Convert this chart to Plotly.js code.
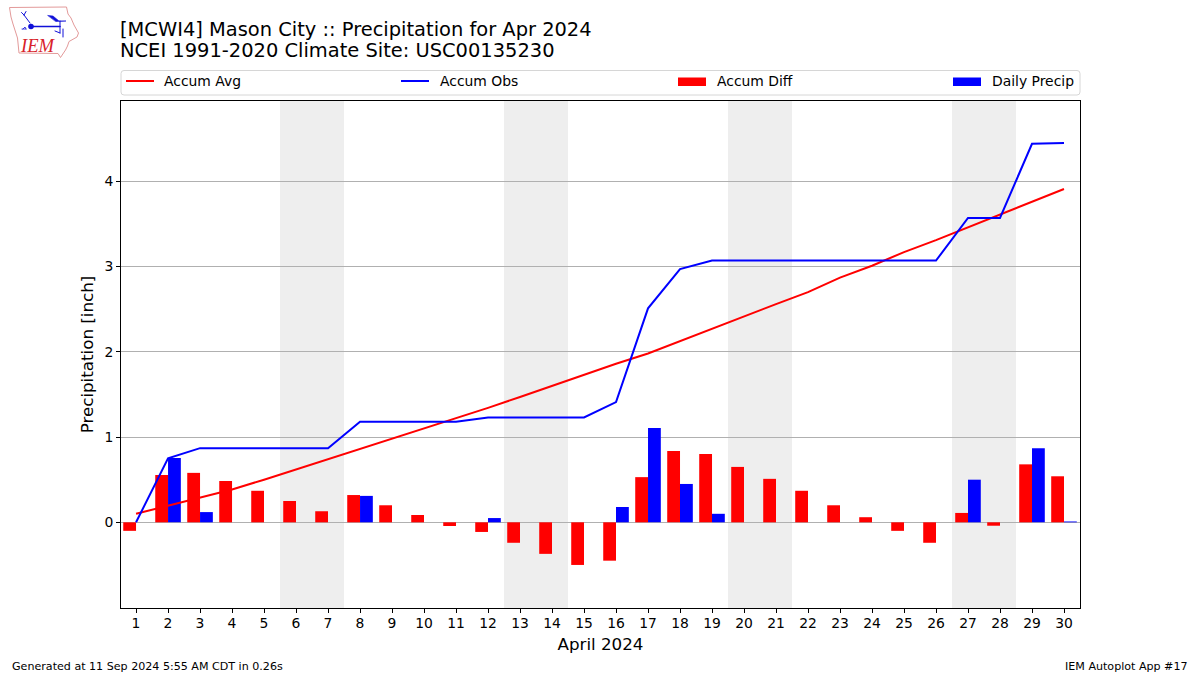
<!DOCTYPE html>
<html><head><meta charset="utf-8">
<script src="https://cdn.plot.ly/plotly-3.0.1.min.js"></script>
<style>html,body{margin:0;padding:0;background:#fff}</style></head>
<body><div id="chart" style="width:1200px;height:675px"></div>
<script>
const days = [1,2,3,4,5,6,7,8,9,10,11,12,13,14,15,16,17,18,19,20,21,22,23,24,25,26,27,28,29,30];
const accumAvg = [0.10,0.195,0.29,0.385,0.50,0.62,0.74,0.86,0.98,1.094,1.223,1.343,1.47,1.60,1.73,1.86,1.98,2.125,2.27,2.42,2.56,2.70,2.87,3.01,3.17,3.31,3.46,3.61,3.76,3.91];
const accumObs = [0,0.75,0.87,0.87,0.87,0.87,0.87,1.18,1.18,1.18,1.18,1.23,1.23,1.23,1.23,1.41,2.51,2.97,3.07,3.07,3.07,3.07,3.07,3.07,3.07,3.07,3.57,3.57,4.44,4.45];
const accumDiff = [-0.10,0.555,0.58,0.485,0.37,0.25,0.13,0.32,0.20,0.086,-0.043,-0.113,-0.24,-0.37,-0.50,-0.45,0.53,0.836,0.80,0.65,0.51,0.37,0.20,0.06,-0.10,-0.24,0.11,-0.04,0.68,0.54];
const dailyPrecip = [0,0.755,0.12,0,0,0,0,0.31,0,0,0,0.05,0,0,0,0.18,1.105,0.45,0.10,0,0,0,0,0,0,0,0.50,0,0.87,0.01];
const weekends = [[5.5,7.5],[12.5,14.5],[19.5,21.5],[26.5,28.5]];
const yTicks = [0,1,2,3,4];
const legendLabels = ["Accum Avg","Accum Obs","Accum Diff","Daily Precip"];

const L=121,T=101,W=959,H=507,FONT="DejaVu Sans";
const px=x=>(x-L)/W, py=y=>1-(y-T)/H;
const TXT="#000";

const logo = `<svg xmlns="http://www.w3.org/2000/svg" viewBox="0 0 90 65" width="90" height="65">
<path d="M9.5 7.5 L66.5 7 L68 14 L71 18 L74 25 L78.5 33 L77 37 L69 41.5 L67.5 46 L65.5 50 L63.5 53 L60.5 57.5 L58 53.5 L19 53 L17.5 38 L13 24 L11 17 Z" fill="none" stroke="#e39a9a" stroke-width="1"/>
<g stroke="#1010d8" fill="#1010d8" stroke-linecap="round">
<path d="M31 26.5 L60 26.5" stroke-width="1.6" fill="none"/>
<circle cx="31" cy="26.5" r="2.8" stroke="none"/>
<path d="M30 23 L24 15 M24 15 L21.5 12.5 M24 15 L26 11.5" stroke-width="1" fill="none"/>
<path d="M48 15.5 L53 16 L59 21 L66 21 L56 21.5 Z" stroke-width=".6"/>
<path d="M60 21 L60 33 M55 31 L60 33 M63 29 L63 37" stroke-width="1" fill="none"/>
<path d="M23 29 l2 -2 l1 2 M22 29 l4 0" stroke-width=".8" fill="none"/>
</g></svg>`;

const shapes = weekends.map(w=>({type:"rect",xref:"x",yref:"paper",x0:w[0],x1:w[1],y0:0,y1:1,fillcolor:"#eeeeee",line:{width:0},layer:"below"}));
const r=3,bx0=px(121),bx1=px(1080),by0=py(70.5),by1=py(95);
const rx=r/W, ry=r/H;
shapes.push({type:"path",xref:"paper",yref:"paper",
  path:`M${bx0+rx},${by0} L${bx1-rx},${by0} Q${bx1},${by0} ${bx1},${by0-ry} L${bx1},${by1+ry} Q${bx1},${by1} ${bx1-rx},${by1} L${bx0+rx},${by1} Q${bx0},${by1} ${bx0},${by1+ry} L${bx0},${by0-ry} Q${bx0},${by0} ${bx0+rx},${by0} Z`,
  line:{color:"#d6d6d6",width:1},fillcolor:"#fff"});
shapes.push({type:"line",xref:"paper",yref:"paper",x0:px(126),x1:px(154),y0:py(81),y1:py(81),line:{color:"#ff0000",width:2}});
shapes.push({type:"line",xref:"paper",yref:"paper",x0:px(401),x1:px(429),y0:py(81),y1:py(81),line:{color:"#0000ff",width:2}});
shapes.push({type:"rect",xref:"paper",yref:"paper",x0:px(678),x1:px(706),y0:py(77.5),y1:py(86),fillcolor:"#ff0000",line:{width:0}});
shapes.push({type:"rect",xref:"paper",yref:"paper",x0:px(953),x1:px(981),y0:py(77.5),y1:py(86),fillcolor:"#0000ff",line:{width:0}});

const ann=(text,x,y,size,anchor,extra)=>Object.assign({text,xref:"paper",yref:"paper",x:px(x),y:py(y),xanchor:anchor||"left",yanchor:"middle",showarrow:false,font:{family:FONT,size,color:TXT},borderpad:0},extra||{});
const annotations=[
  ann("NCEI 1991-2020 Climate Site: USC00135230",119,50.5,19.44),
  ann(legendLabels[0],163,80.8,13.9),
  ann(legendLabels[1],439,80.8,13.9),
  ann(legendLabels[2],716,80.8,13.9),
  ann(legendLabels[3],991,80.8,13.9),
  ann("Generated at 11 Sep 2024 5:55 AM CDT in 0.26s",11,666,11.1),
  ann("IEM Autoplot App #17",1189,666,11.1,"right"),
  ann("<i>IEM</i>",19,45.5,18.6,"left",{font:{family:"Liberation Serif",size:18.6,color:"#d8222a"}})
];

const traces=[
 {type:"bar",name:"Accum Diff",x:days,y:accumDiff,width:0.4,offset:-0.4,marker:{color:"#ff0000",line:{width:0}}},
 {type:"bar",name:"Daily Precip",x:days,y:dailyPrecip,width:0.4,offset:0,marker:{color:"#0000ff",line:{width:0}}},
 {type:"scatter",mode:"lines",name:"Accum Avg",x:days,y:accumAvg,line:{color:"#ff0000",width:2}},
 {type:"scatter",mode:"lines",name:"Accum Obs",x:days,y:accumObs,line:{color:"#0000ff",width:2}}
];
const layout={
  width:1200,height:675,autosize:false,showlegend:false,barmode:"overlay",
  paper_bgcolor:"#fff",plot_bgcolor:"#fff",
  margin:{l:L,r:1200-L-W,t:T,b:675-T-H,pad:0},
  font:{family:FONT,color:TXT,size:13.9},
  title:{text:"[MCWI4] Mason City :: Precipitation for Apr 2024",xref:"container",yref:"container",x:120/1200,xanchor:"left",y:1-29/675,yanchor:"middle",pad:{t:0,b:0,l:0,r:0},font:{family:FONT,size:19.44,color:TXT}},
  xaxis:{range:[0.53,30.5],tickmode:"array",tickvals:days,ticktext:days.map(String),ticks:"outside",ticklen:4,tickwidth:1,tickcolor:"#000",tickangle:0,ticklabelstandoff:-2,
    showline:true,linecolor:"#000",linewidth:1,mirror:true,showgrid:false,zeroline:false,tickfont:{family:FONT,size:13.9,color:TXT},
    title:{text:"April 2024",font:{family:FONT,size:16.7,color:TXT},standoff:8}},
  yaxis:{range:[-1.005,4.942],tickmode:"array",tickvals:yTicks,ticktext:yTicks.map(String),ticks:"outside",ticklen:4,tickwidth:1,tickcolor:"#000",
    showline:true,linecolor:"#000",linewidth:1,mirror:true,showgrid:true,gridcolor:"#b0b0b0",gridwidth:1,zeroline:false,tickfont:{family:FONT,size:13.9,color:TXT},
    title:{text:"Precipitation [inch]",font:{family:FONT,size:16.7,color:TXT},standoff:6}},
  shapes,annotations,
  images:[{source:"data:image/svg+xml;utf8,"+encodeURIComponent(logo),xref:"paper",yref:"paper",x:px(0),y:py(0),sizex:90/W,sizey:65/H,sizing:"stretch",xanchor:"left",yanchor:"top",layer:"above"}]
};
Plotly.newPlot("chart",traces,layout,{displayModeBar:false,staticPlot:true});
</script></body></html>
